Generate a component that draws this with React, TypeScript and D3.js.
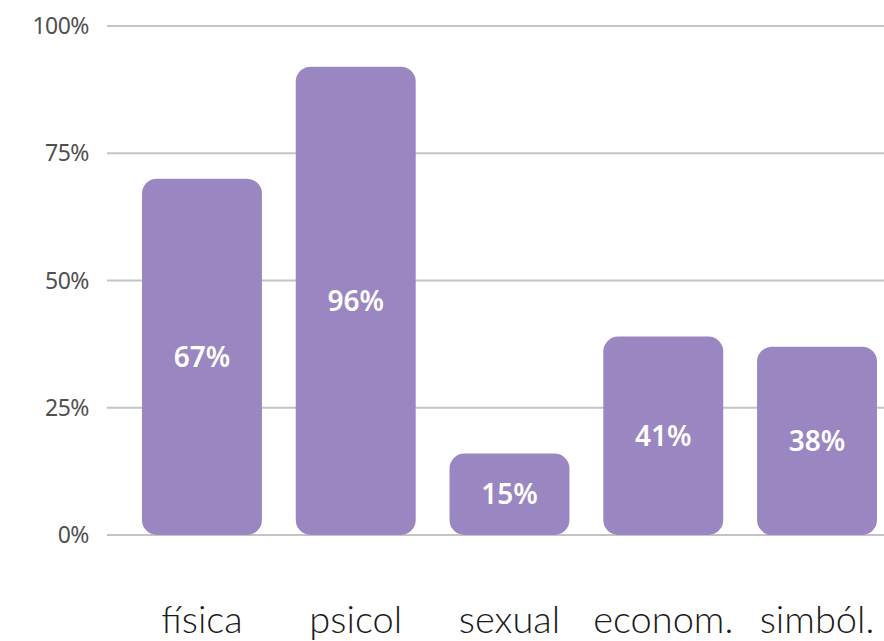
import { useEffect, useRef } from "react";
import * as d3 from "d3";

const categories = ["física", "psicol", "sexual", "econom.", "simból."];
// bar heights as drawn (percent of axis)
const barValues = [70, 92, 16, 39, 37];
// labels printed inside the bars
const barLabels = ["67%", "96%", "15%", "41%", "38%"];
const yTicks = [0, 25, 50, 75, 100];

const WIDTH = 884;
const HEIGHT = 641;

export default function App() {
  const svgRef = useRef<SVGSVGElement | null>(null);

  useEffect(() => {
    if (!svgRef.current) return;
    const svg = d3.select(svgRef.current);
    svg.selectAll("*").remove();

    const x = d3
      .scaleBand<string>()
      .domain(categories)
      .range([142, 877])
      .paddingInner(0.22)
      .paddingOuter(0);

    const y = d3.scaleLinear().domain([0, 100]).range([535, 26]);

    // grid lines
    svg
      .append("g")
      .selectAll("line")
      .data(yTicks)
      .join("line")
      .attr("x1", 107)
      .attr("x2", WIDTH)
      .attr("y1", (d) => y(d))
      .attr("y2", (d) => y(d))
      .attr("stroke", "#c4c4c4")
      .attr("stroke-width", 2);

    // y tick labels
    svg
      .append("g")
      .selectAll("text")
      .data(yTicks)
      .join("text")
      .text((d) => `${d}%`)
      .attr("x", 89)
      .attr("y", (d) => y(d))
      .attr("dy", "0.35em")
      .attr("text-anchor", "end")
      .style("font-family", "'Noto Sans', sans-serif")
      .style("font-size", "23px")
      .style("letter-spacing", "-0.5px")
      .style("fill", "#505050");

    // bars
    const bars = svg
      .append("g")
      .selectAll("g")
      .data(categories)
      .join("g");

    bars
      .append("rect")
      .attr("x", (d) => x(d)!)
      .attr("y", (_, i) => y(barValues[i]))
      .attr("width", x.bandwidth())
      .attr("height", (_, i) => y(0) - y(barValues[i]))
      .attr("rx", 15)
      .attr("ry", 15)
      .attr("fill", "#9a86c1");

    bars
      .append("text")
      .text((_, i) => barLabels[i])
      .attr("x", (d) => x(d)! + x.bandwidth() / 2)
      .attr("y", (_, i) => (y(barValues[i]) + y(0)) / 2)
      .attr("dy", "0.35em")
      .attr("text-anchor", "middle")
      .style("font-family", "'Noto Sans', sans-serif")
      .style("font-weight", 600)
      .style("font-size", "28px")
      .style("fill", "#ffffff");

    // category labels
    svg
      .append("g")
      .selectAll("text")
      .data(categories)
      .join("text")
      .text((d) => d)
      .attr("x", (d) => x(d)! + x.bandwidth() / 2)
      .attr("y", 633)
      .attr("text-anchor", "middle")
      .style("font-family", "Lato, sans-serif")
      .style("font-weight", 300)
      .style("font-size", "38px")
      .style("fill", "#1a1a1a");
  }, []);

  return (
    <svg
      ref={svgRef}
      width={WIDTH}
      height={HEIGHT}
      style={{ position: "absolute", left: 0, top: 0, background: "#fff" }}
    />
  );
}
